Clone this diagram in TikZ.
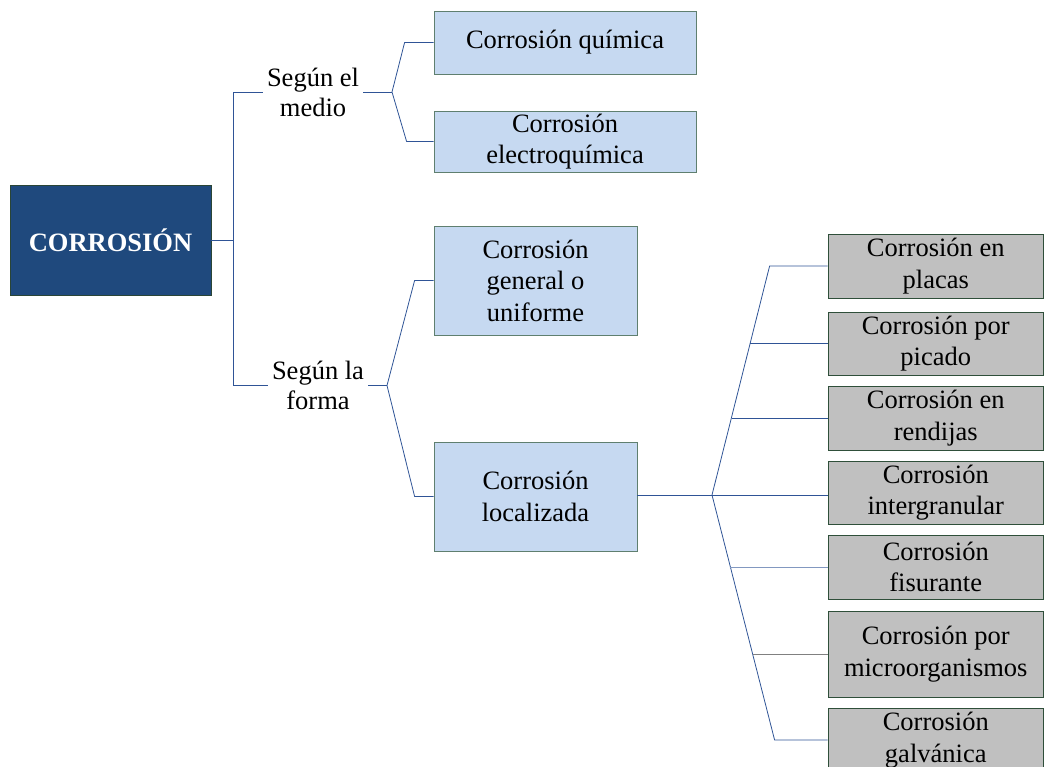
\documentclass[tikz,border=0pt]{standalone}
\usepackage{fontspec}
\setmainfont{Liberation Serif}
\definecolor{linec}{HTML}{2F5496}
\definecolor{mainfill}{HTML}{1F497D}
\definecolor{maindraw}{HTML}{2A4536}
\definecolor{bluefill}{HTML}{C6D9F1}
\definecolor{bluedraw}{HTML}{5F7F6F}
\definecolor{greyfill}{HTML}{C0C0C0}
\definecolor{greydraw}{HTML}{2F4F3A}
\begin{document}
\begin{tikzpicture}[x=1pt,y=-1pt,
  conn/.style={draw=linec, line width=0.8pt},
  txt/.style={font=\fontsize{26.5}{31.5}\selectfont, align=center},
  mainbox/.style={draw=maindraw, fill=mainfill, text=white, line width=0.8pt, inner sep=0pt,
    font=\fontsize{26.5}{31.5}\selectfont\bfseries},
  bluebox/.style={txt, draw=bluedraw, fill=bluefill, line width=0.8pt, inner sep=0pt},
  greybox/.style={txt, draw=greydraw, fill=greyfill, line width=0.8pt, inner sep=0pt,
    minimum width=215.5},
  lbl/.style={txt, inner xsep=4pt, inner ysep=1pt, font=\fontsize{26.5}{30}\selectfont}]
\useasboundingbox (0,0) rectangle (1044,767);
\clip (0,0) rectangle (1044,767);
% nodes
\node[mainbox, minimum width=201, minimum height=110] (main) at (110.5,240) {CORROSIÓN};
\node[lbl] (medio) at (313,92) {Según el\\medio};
\node[lbl] (forma) at (318,385.5) {Según la\\forma};
\node[bluebox, minimum width=262, minimum height=63] (q) at (565,42.5) {Corrosión química};
\node[bluebox, minimum width=262, minimum height=61] (e) at (565,141.5) {Corrosión\\electroquímica};
\node[bluebox, minimum width=203, minimum height=109] (gen) at (535.5,280.5) {Corrosión\\general o\\uniforme};
\node[bluebox, minimum width=203, minimum height=109] (loc) at (535.5,496.5) {Corrosión\\localizada};
\node[greybox, minimum height=64] (placas) at (935.75,266) {Corrosión en\\placas};
\node[greybox, minimum height=63] (picado) at (935.75,343.5) {Corrosión por\\picado};
\node[greybox, minimum height=64] (rend) at (935.75,418) {Corrosión en\\rendijas};
\node[greybox, minimum height=63] (inter) at (935.75,492.5) {Corrosión\\intergranular};
\node[greybox, minimum height=64] (fis) at (935.75,567) {Corrosión\\fisurante};
\node[greybox, minimum height=86] (micro) at (935.75,654) {Corrosión por\\microorganismos};
\node[greybox, minimum height=64] (galv) at (935.75,740) {Corrosión\\galvánica};
% connectors
\coordinate (tj) at (233,240);
\draw[conn] (main.east) -- (tj);
\draw[conn] (medio.west) -- (medio.west -| tj) -- (forma.west -| tj) -- (forma.west);
\coordinate (fm) at (392,92);
\draw[conn] (medio.east) -- (fm);
\draw[conn] (fm) -- ([xshift=-29]q.west) -- (q.west);
\draw[conn] (fm) -- ([xshift=-27]e.west) -- (e.west);
\coordinate (ff) at (387,385.5);
\draw[conn] (forma.east) -- (ff);
\draw[conn] (ff) -- ([xshift=-19]gen.west) -- (gen.west);
\draw[conn] (ff) -- ([xshift=-19]loc.west) -- (loc.west);
\coordinate (fl) at (712,495);
\draw[conn] (loc.east |- fl) -- (fl);
\draw[conn] (fl) -- ([xshift=-58]placas.west) -- (placas.west);
\draw[conn] (fl) -- ([xshift=-53]galv.west) -- (galv.west);
\draw[conn] ([xshift=-78]picado.west) -- (picado.west);
\draw[conn] ([xshift=-96]rend.west) -- (rend.west);
\draw[conn] (fl) -- (fl -| inter.west);
\draw[conn, draw=linec!60] ([xshift=-98]fis.west) -- (fis.west);
\draw[conn, draw=gray] ([xshift=-75]micro.west) -- (micro.west);
\end{tikzpicture}
\end{document}
